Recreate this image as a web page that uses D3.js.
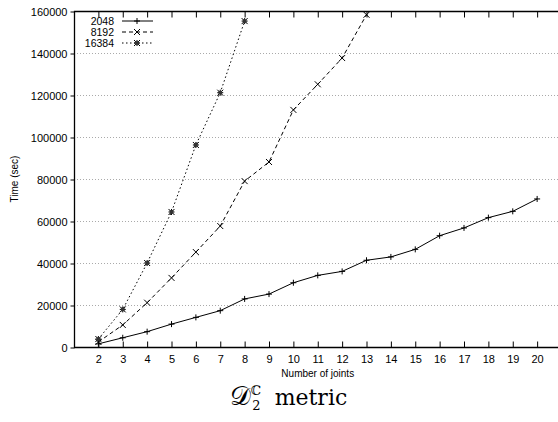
<!DOCTYPE html>
<html>
<head>
<meta charset="utf-8">
<script src="https://cdn.jsdelivr.net/npm/d3@7"></script>
<style>
  body { margin: 0; background: #fff; }
  text { font-family: "Liberation Sans", Arial, sans-serif; }
</style>
</head>
<body>
<div id="chart"></div>
<script>
var joints = [2,3,4,5,6,7,8,9,10,11,12,13,14,15,16,17,18,19,20];
var t2048 = [1500,4400,7300,10900,14100,17300,22900,25200,30600,34100,36000,41300,42900,46500,53000,56700,61600,64600,70500];
var joints8192 = [2,3,4,5,6,7,8,9,10,11,12,13];
var t8192 = [2400,10500,21100,32900,45200,57600,79000,88100,112900,125100,137600,158200];
var joints16384 = [2,3,4,5,6,7,8];
var t16384 = [3800,17900,40000,64300,96200,121100,155200];
var xTicks = [2,3,4,5,6,7,8,9,10,11,12,13,14,15,16,17,18,19,20];
var yTicks = [0,20000,40000,60000,80000,100000,120000,140000,160000];

(function() {
var width = 558, height = 422;
var left = 74, plotTop = 11, bottom = 347;

var x = d3.scaleLinear().domain([1, 21]).range([left, 561.5]);
var y = d3.scaleLinear().domain([0, 160000]).range([bottom, plotTop]);

var svg = d3.select('#chart').append('svg')
    .attr('width', width)
    .attr('height', height);

// grid
svg.append('g').selectAll('line')
    .data(yTicks.filter(function(d){ return d > 0 && d < 160000; }))
    .enter().append('line')
    .attr('x1', left).attr('x2', x(21))
    .attr('y1', function(d){ return y(d) + 0.5; })
    .attr('y2', function(d){ return y(d) + 0.5; })
    .attr('stroke', '#aaa').attr('stroke-width', 1)
    .attr('stroke-dasharray', '1,2');

// axes
var yAxis = d3.axisLeft(y).tickValues(yTicks).tickSize(4).tickPadding(3).tickFormat(d3.format('d'));
var gy = svg.append('g').attr('transform', 'translate(' + (left + 0.5) + ',0.5)').call(yAxis);
gy.select('.domain').remove();
gy.selectAll('text').style('font-size', '11px').attr('fill', '#000');

var xAxis = d3.axisBottom(x).tickValues(xTicks).tickSize(-6).tickPadding(8);
var gx = svg.append('g').attr('transform', 'translate(0,' + (bottom + 0.5) + ')').call(xAxis);
gx.select('.domain').remove();
gx.selectAll('text').style('font-size', '11px').attr('fill', '#000');

var xTop = d3.axisTop(x).tickValues(xTicks).tickSize(-6).tickFormat('');
var gt = svg.append('g').attr('transform', 'translate(0,' + (plotTop + 0.5) + ')').call(xTop);
gt.select('.domain').remove();

// frame
svg.append('path')
    .attr('d', 'M' + x(21) + ',' + (plotTop + 0.5) + 'H' + (left + 0.5) + 'V' + (bottom + 0.5) + 'H' + x(21))
    .attr('fill', 'none').attr('stroke', '#000').attr('stroke-width', 1.3);

// series
var series = [
  {name: '2048', xs: joints, ys: t2048, dash: null, mark: 'plus'},
  {name: '8192', xs: joints8192, ys: t8192, dash: '4,3', mark: 'cross'},
  {name: '16384', xs: joints16384, ys: t16384, dash: '1.5,2.5', mark: 'star'}
];

function marker(g, type, cx, cy) {
  var s = 3, p = '';
  if (type === 'plus' || type === 'star') p += 'M' + (cx - s) + ',' + cy + 'H' + (cx + s) + 'M' + cx + ',' + (cy - s) + 'V' + (cy + s);
  if (type === 'cross' || type === 'star') p += 'M' + (cx - s) + ',' + (cy - s) + 'L' + (cx + s) + ',' + (cy + s) + 'M' + (cx - s) + ',' + (cy + s) + 'L' + (cx + s) + ',' + (cy - s);
  g.append('path').attr('d', p).attr('stroke', '#000').attr('stroke-width', 1).attr('fill', 'none');
  if (type === 'star') g.append('rect').attr('x', cx - 1.8).attr('y', cy - 1.8).attr('width', 3.6).attr('height', 3.6).attr('fill', '#333');
}

var line = d3.line().x(function(d){ return x(d[0]); }).y(function(d){ return y(d[1]); });

series.forEach(function(s, i) {
  var pts = s.xs.map(function(v, j){ return [v, s.ys[j]]; });
  svg.append('path').datum(pts)
      .attr('d', line)
      .attr('fill', 'none').attr('stroke', '#000').attr('stroke-width', 1)
      .attr('stroke-dasharray', s.dash);
  var g = svg.append('g');
  pts.forEach(function(p){ marker(g, s.mark, x(p[0]), y(p[1])); });

  // legend
  var ly = 21 + i * 11;
  svg.append('text').attr('x', 114).attr('y', ly + 4)
      .attr('text-anchor', 'end').style('font-size', '10.5px').text(s.name);
  svg.append('line').attr('x1', 122).attr('x2', 153).attr('y1', ly).attr('y2', ly)
      .attr('stroke', '#000').attr('stroke-width', 1).attr('stroke-dasharray', s.dash);
  var lg = svg.append('g');
  marker(lg, s.mark, 137, ly);
});

// labels
svg.append('text')
    .attr('transform', 'translate(18,' + (plotTop + bottom) / 2 + ') rotate(-90)')
    .attr('text-anchor', 'middle').style('font-size', '10px').text('Time (sec)');

svg.append('text')
    .attr('x', (left + x(21)) / 2).attr('y', 377)
    .attr('text-anchor', 'middle').style('font-size', '10px').text('Number of joints');

var title = svg.append('text')
    .attr('x', 230).attr('y', 405)
    .attr('text-anchor', 'start')
    .style('font-family', '"DejaVu Serif", "Liberation Serif", serif')
    .style('font-size', '22px');
title.append('tspan').style('font-size', '26px').text('𝒟');
title.append('tspan').attr('dy', -10).style('font-size', '13px').text('ℂ');
title.append('tspan').attr('dx', -9).attr('dy', 15).style('font-size', '13px').text('2');
title.append('tspan').attr('dy', -5).attr('dx', 14).text('metric');
})();
</script>
</body>
</html>
